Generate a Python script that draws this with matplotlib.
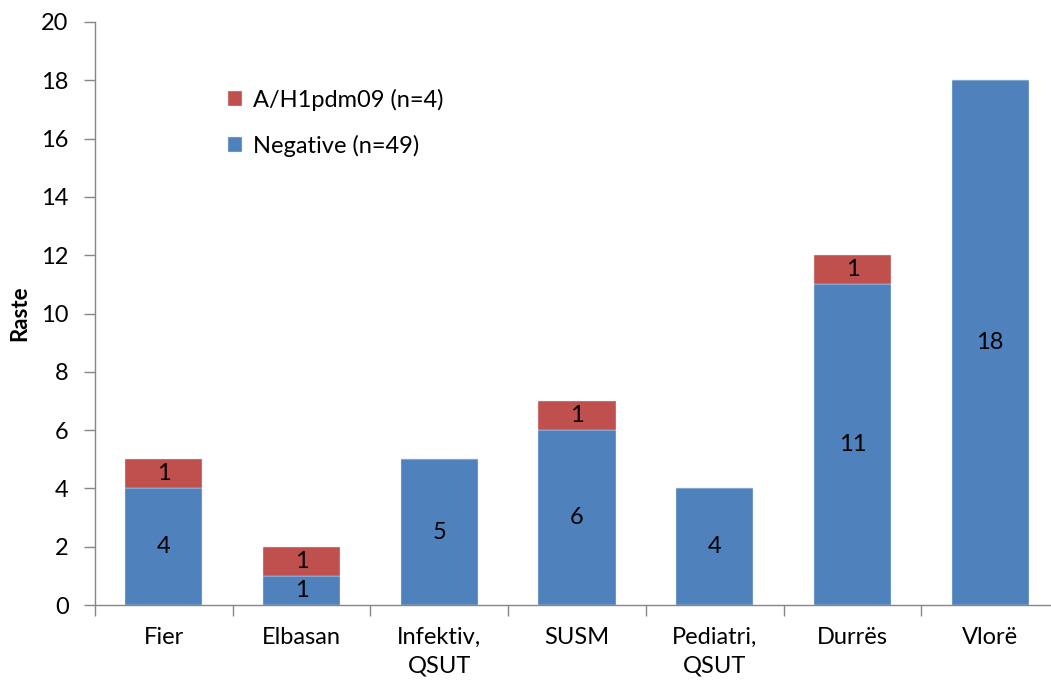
import numpy as np
import matplotlib.pyplot as plt

cats = ['Fier', 'Elbasan', 'Infektiv,\nQSUT', 'SUSM', 'Pediatri,\nQSUT', 'Durrës', 'Vlorë']
neg = [4, 1, 5, 6, 4, 11, 18]
pos = [1, 1, 0, 1, 0, 1, 0]
lbl_pos = 'A/H1pdm09 (n=4)'
lbl_neg = 'Negative (n=49)'

blue = '#4F81BD'
red = '#C0504D'
grey = '#868686'

plt.rcParams['font.family'] = ['Lato', 'DejaVu Sans']
fs = 17

fig = plt.figure(figsize=(10.51, 6.83), dpi=100)
ax = fig.add_axes([95 / 1051, 1 - 605 / 683, 964 / 1051, 583 / 683])

x = np.arange(len(cats))
w = 0.56
b1 = ax.bar(x, neg, w, color=blue, edgecolor='#dce6f2', linewidth=0.3, label=lbl_neg)
b2 = ax.bar(x, pos, w, bottom=neg, color=red, edgecolor='#dce6f2', linewidth=0.3, label=lbl_pos)

for i in range(len(cats)):
    ax.text(x[i], neg[i] / 2, str(neg[i]), ha='center', va='center', fontsize=fs, color='black')
    if pos[i] > 0:
        ax.text(x[i], neg[i] + pos[i] / 2, str(pos[i]), ha='center', va='center', fontsize=fs, color='black')

ax.set_xlim(-0.5, len(cats) - 0.5)
ax.set_ylim(0, 20)
ax.set_yticks(range(0, 21, 2))
ax.set_xticks(x)
ax.set_xticklabels(cats, fontsize=fs, linespacing=1.4)
ax.set_xticks(np.arange(-0.5, len(cats), 1), minor=True)
ax.tick_params(axis='x', which='major', length=0, pad=16)
ax.tick_params(axis='x', which='minor', length=8, color=grey, width=1)
ax.tick_params(axis='y', length=8, color=grey, width=1, labelsize=fs, pad=11)

for s in ['top', 'right']:
    ax.spines[s].set_visible(False)
for s in ['left', 'bottom']:
    ax.spines[s].set_color(grey)
    ax.spines[s].set_linewidth(1)

ax.set_ylabel('Raste', fontsize=fs - 1, fontweight='bold', labelpad=8)

ax.legend(handles=[b2, b1], loc='upper left', bbox_to_anchor=(0.138, 0.885),
          frameon=False, fontsize=fs, handlelength=0.6, handleheight=0.6,
          handletextpad=0.45, labelspacing=1.0, borderpad=0, borderaxespad=0)

fig.savefig('out.png', dpi=100)
